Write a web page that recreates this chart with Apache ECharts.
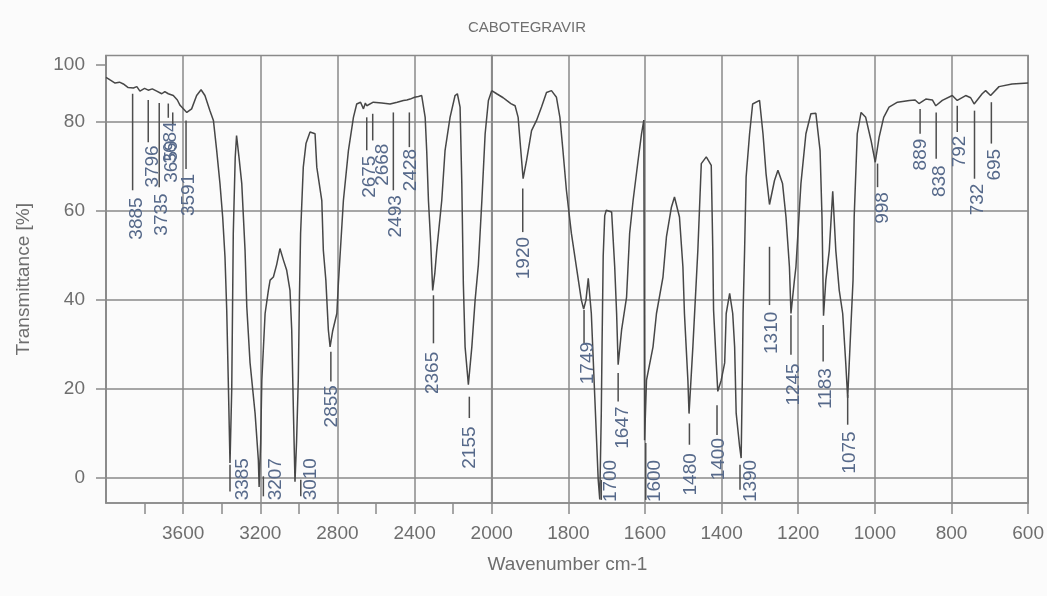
<!DOCTYPE html>
<html>
<head>
<meta charset="utf-8">
<script src="https://cdn.jsdelivr.net/npm/echarts@6/dist/echarts.min.js"></script>
<style>
html,body{margin:0;padding:0;background:#fbfbfb;}
#chart{width:1047px;height:596px;}
</style>
</head>
<body>
<div id="chart"></div>
<script>
// ---- data ----
const chartTitle = 'CABOTEGRAVIR';
const xAxisTitle = 'Wavenumber cm-1';
const yAxisTitle = 'Transmittance [%]';

const wavenumbers = [
  4000,3979,3953,3930,3910,3885,3858,3840,3824,3800,3781,3760,3737,3711,3695,3677,3651,3630,3616,3581,
  3556,3530,3507,3487,3461,3443,3426,3409,3395,3383,3374,3365,3357,3348,3340,3330,3323,3310,3296,3279,
  3270,3253,3227,3210,3206,3198,3192,3175,3158,3149,3132,3115,3098,3080,3063,3046,3037,3028,3020,3012,
  3003,2997,2991,2977,2963,2942,2916,2907,2881,2873,2860,2847,2838,2825,2803,2795,2769,2743,2717,2700,
  2680,2665,2655,2648,2614,2570,2527,2490,2458,2440,2423,2400,2380,2363,2345,2337,2328,2316,2306,2295,
  2285,2259,2242,2216,2190,2178,2164,2155,2147,2138,2121,2103,2086,2069,2051,2034,2017,2000,
  1987,1970,1961,1950,1939,1931,1924,1918,1909,1896,1883,1870,1857,1844,1831,1822,1814,1805,1792,1779,
  1766,1760,1754,1748,1740,1731,1722,1718,1714,1712,1709,1705,1701,1687,1679,1674,1670,1661,1648,1640,
  1631,1618,1609,1603,1601,1596,1579,1570,1553,1544,1531,1523,1510,1501,1497,1488,1485,1475,1466,1462,
  1453,1440,1427,1423,1421,1414,1410,1401,1392,1388,1379,1371,1366,1362,1353,1349,1346,1344,1340,1336,
  1327,1319,1301,1292,1284,1275,1262,1253,1241,1232,1223,1219,1210,1206,1193,1180,1167,1154,1143,1138,
  1134,1128,1119,1110,1102,1093,1084,1076,1071,1063,1057,1054,1046,1036,1024,1010,999,989,977,963,
  941,910,895,885,867,850,841,824,798,785,763,750,741,720,711,698,676,642,600
];
const transmittance = [
  90.1,89.5,88.8,89.0,88.6,87.8,87.7,88.0,87.0,87.6,87.2,87.5,87.0,86.4,86.9,86.4,86.0,85.0,83.8,82.2,
  83.0,86.0,87.3,86.0,82.6,80.4,73.6,66.2,58.7,49.7,37.8,20.0,3.4,20.0,55.0,72.0,77.0,72.0,66.2,51.2,
  38.5,25.9,14.6,4.1,-2.0,8.0,22.0,37.0,42.2,44.5,45.2,48.0,51.6,49.0,46.7,42.2,33.3,14.6,-0.8,8.0,
  22.0,40.7,55.0,69.9,75.2,77.8,77.4,69.9,62.4,51.2,44.5,33.3,29.5,33.0,37.0,43.8,62.4,73.6,81.1,84.1,
  84.5,83.0,84.3,83.7,84.5,84.3,84.1,84.5,84.9,85.0,85.2,85.6,85.8,86.0,81.1,73.6,62.4,52.7,42.2,46.0,
  51.2,62.4,73.6,81.1,86.0,86.4,83.4,66.2,43.7,29.5,21.0,29.5,40.0,48.0,62.4,77.4,84.9,87.1,
  86.4,85.5,84.9,84.2,83.7,81.1,73.6,67.3,71.4,78.1,80.4,83.4,86.7,87.1,85.6,81.1,73.6,64.7,55.0,47.5,
  40.0,38.0,40.0,44.9,37.0,18.3,-0.4,-4.8,14.6,30.0,50.0,59.0,60.2,59.8,47.5,37.0,25.5,33.3,40.7,55.0,
  62.4,71.4,77.4,80.5,8.5,22.0,29.5,37.0,45.2,54.2,60.9,63.2,58.7,47.5,37.0,22.0,14.5,29.5,44.5,51.2,
  70.7,72.2,70.3,51.2,37.8,25.8,19.5,22.0,25.9,37.0,41.5,37.0,29.5,14.6,7.1,4.5,22.0,37.0,51.2,67.7,
  77.4,84.1,84.9,77.4,68.4,61.5,66.9,69.2,66.2,58.7,47.5,37.0,44.5,47.5,66.2,77.4,81.9,82.0,73.6,58.7,
  36.5,44.5,51.2,64.5,51.2,42.2,37.0,25.8,18.0,33.3,44.5,58.7,77.4,82.2,81.1,75.9,71.0,76.6,81.1,83.4,
  84.5,84.9,85.0,84.2,85.2,85.0,83.7,84.9,86.0,84.9,86.0,85.5,84.1,86.4,87.1,86.0,88.0,88.6,88.8
];

// peak annotations: label text, leader line (wavenumber, top T, bottom T), text anchor (wavenumber, top T)
const peakText    = ['3885','3796','3735','3684','3659','3591','3385','3207','3010','2855','2675','2668','2493','2428','2365','2155',
                     '1920','1749','1700','1647','1600','1480','1400','1390','1310','1245','1183','1075','998','889','838','792','732','695'];
const peakLineW   = [3862,3781,3724,3677,3654,3585,3357,3184,2990,2834,2648,2617,2510,2427,2302,2116,
                     1919,1759,1714,1670,1598,1484,1412,1352,1275,1219,1135,1071,993,882,840,785,740,696];
const peakLineTop = [86.4,85.0,84.3,84.2,82.2,80.4,3.0,0.4,-0.4,28.4,81.1,81.9,82.2,82.2,41.1,18.3,
                     65.1,37.8,-0.4,23.6,7.9,12.3,16.4,3.0,52.0,36.6,34.4,18.7,70.7,83.0,82.2,83.7,82.6,84.5];
const peakLineBot = [64.7,75.5,65.4,81.0,79.6,69.5,-3.0,-4.1,-4.1,21.7,73.7,75.9,64.7,74.4,30.3,13.5,
                     55.3,30.3,-4.9,17.2,-4.9,7.5,9.7,-2.6,38.9,27.7,26.2,12.0,65.4,77.4,71.8,77.8,67.3,75.2];
const peakTextW   = [3846,3765,3716,3668,3663,3576,3296,3123,2942,2834,2640,2570,2501,2427,2311,2121,
                     1918,1753,1692,1661,1577,1484,1410,1327,1271,1213,1132,1069,982,882,832,780,735,689];
const peakTextTop = [63.1,74.8,64.0,80.2,75.9,68.4,4.5,4.5,4.5,20.9,72.5,75.2,63.6,74.0,28.4,11.6,
                     54.2,30.6,4.1,16.1,4.1,5.6,9.0,4.1,37.4,25.8,24.7,10.5,64.3,76.3,70.3,77.0,66.2,74.0];

const yTickValues = [0, 20, 40, 60, 80];
const yTopTickValue = 92.9;   // the reference prints "100" at this height
const yTopTickLabel = '100';
const xHighTicks  = [2200, 2400, 2600, 2800, 3000, 3200, 3400, 3600, 3800];
const xHighLabels = [2400, 2800, 3200, 3600];

// ---- build ----
const spectrum = wavenumbers.map((w, i) => [w, transmittance[i]]);
const specHigh = spectrum.filter(p => p[0] >= 2000);
const specLow  = spectrum.filter(p => p[0] <= 2000);
const peakRows = peakText.map((t, i) => [peakLineW[i], peakLineTop[i], peakLineBot[i], peakTextW[i], peakTextTop[i], i]);
const peaksHigh = peakRows.filter(r => r[0] >= 2000);
const peaksLow  = peakRows.filter(r => r[0] < 2000);

const FONT = 'Liberation Sans, Arial, sans-serif';
const GRID_TOP = 55.5, GRID_H = 447.5;
const axisGrey = '#8a8a8a';
const labelGrey = '#6e6e6e';

function peakRender(params, api) {
  const a = api.coord([api.value(0), api.value(1)]);
  const b = api.coord([api.value(0), api.value(2)]);
  const t = api.coord([api.value(3), api.value(4)]);
  const txt = peakText[api.value(5)];
  return {
    type: 'group',
    children: [
      { type: 'line', shape: { x1: a[0], y1: a[1], x2: b[0], y2: b[1] },
        style: { stroke: '#4d4d4d', lineWidth: 1.5 } },
      { type: 'text', x: t[0] + 1, y: t[1], rotation: Math.PI / 2,
        style: { text: txt, x: 0, y: 0, align: 'right', verticalAlign: 'middle',
                 fill: '#56698a', font: '19px ' + FONT } }
    ]
  };
}

const yMin = -5.6, yMax = 95;
const gridLine = { show: true, lineStyle: { color: axisGrey, width: 1.5 } };
const axisLineStyle = { show: true, onZero: false, lineStyle: { color: axisGrey, width: 1.5 } };
const chart = echarts.init(document.getElementById('chart'), null, { renderer: 'canvas' });
chart.setOption({
  animation: false,
  backgroundColor: '#fbfbfb',
  grid: [
    { left: 106, top: GRID_TOP, width: 385.7, height: GRID_H, show: true, borderColor: axisGrey, borderWidth: 1.5, backgroundColor: 'transparent' },
    { left: 491.7, top: GRID_TOP, width: 537.6, height: GRID_H, show: true, borderColor: axisGrey, borderWidth: 1.5, backgroundColor: 'transparent' }
  ],
  xAxis: [
    { type: 'value', gridIndex: 0, min: 2000, max: 4000, inverse: true, position: 'bottom',
      axisLine: axisLineStyle,
      axisTick: { show: true, length: 11, customValues: xHighTicks, lineStyle: { color: axisGrey, width: 1.5 } },
      axisLabel: { customValues: xHighLabels, margin: 21, color: labelGrey, fontSize: 19, fontFamily: FONT,
                   formatter: v => String(v) },
      splitLine: { show: false } },
    { type: 'value', gridIndex: 1, min: 600, max: 2000, interval: 200, inverse: true, position: 'bottom',
      axisLine: axisLineStyle,
      axisTick: { show: true, length: 11, lineStyle: { color: axisGrey, width: 1.5 } },
      axisLabel: { showMinLabel: true, showMaxLabel: true, margin: 21, color: labelGrey, fontSize: 19, fontFamily: FONT,
                   formatter: v => String(v) },
      splitLine: gridLine },
    { type: 'value', gridIndex: 0, min: 2000, max: 4000, interval: 400, inverse: true, position: 'bottom',
      axisLine: { show: false, onZero: false }, axisTick: { show: false }, axisLabel: { show: false },
      splitLine: gridLine }
  ],
  yAxis: [
    { type: 'value', gridIndex: 0, min: yMin, max: yMax, position: 'left',
      name: yAxisTitle, nameLocation: 'middle', nameGap: 73, nameRotate: 90,
      nameTextStyle: { color: labelGrey, fontSize: 19, fontFamily: FONT },
      axisLine: axisLineStyle,
      axisTick: { show: true, length: 10, customValues: yTickValues.concat([yTopTickValue]), lineStyle: { color: axisGrey, width: 1.5 } },
      axisLabel: { customValues: yTickValues.concat([yTopTickValue]), margin: 21, color: labelGrey, fontSize: 19, fontFamily: FONT,
                   formatter: v => (v === yTopTickValue ? yTopTickLabel : String(v)) },
      splitLine: { show: false } },
    { type: 'value', gridIndex: 0, min: yMin, max: yMax, position: 'left',
      axisLine: { show: false, onZero: false }, axisLabel: { show: false },
      axisTick: { show: false, customValues: yTickValues },
      splitLine: gridLine },
    { type: 'value', gridIndex: 1, min: yMin, max: yMax, position: 'left',
      axisLine: { show: false, onZero: false }, axisLabel: { show: false },
      axisTick: { show: false, customValues: yTickValues },
      splitLine: gridLine }
  ],
  graphic: [
    { type: 'text', x: 527, y: 28, style: { text: chartTitle, align: 'center', verticalAlign: 'middle', fill: '#707070', font: '15px ' + FONT } },
    { type: 'text', x: 567.5, y: 565, style: { text: xAxisTitle, align: 'center', verticalAlign: 'middle', fill: labelGrey, font: '19px ' + FONT } }
  ],
  series: [
    { type: 'line', xAxisIndex: 0, yAxisIndex: 0, data: specHigh, showSymbol: false, symbol: 'none',
      lineStyle: { color: '#474747', width: 1.5 }, z: 3 },
    { type: 'line', xAxisIndex: 1, yAxisIndex: 2, data: specLow, showSymbol: false, symbol: 'none',
      lineStyle: { color: '#474747', width: 1.5 }, z: 3 },
    { type: 'custom', xAxisIndex: 0, yAxisIndex: 0, data: peaksHigh, renderItem: peakRender, z: 4,
      encode: { x: [0, 3], y: [1, 2, 4] } },
    { type: 'custom', xAxisIndex: 1, yAxisIndex: 2, data: peaksLow, renderItem: peakRender, z: 4,
      encode: { x: [0, 3], y: [1, 2, 4] } }
  ]
});
</script>
</body>
</html>
